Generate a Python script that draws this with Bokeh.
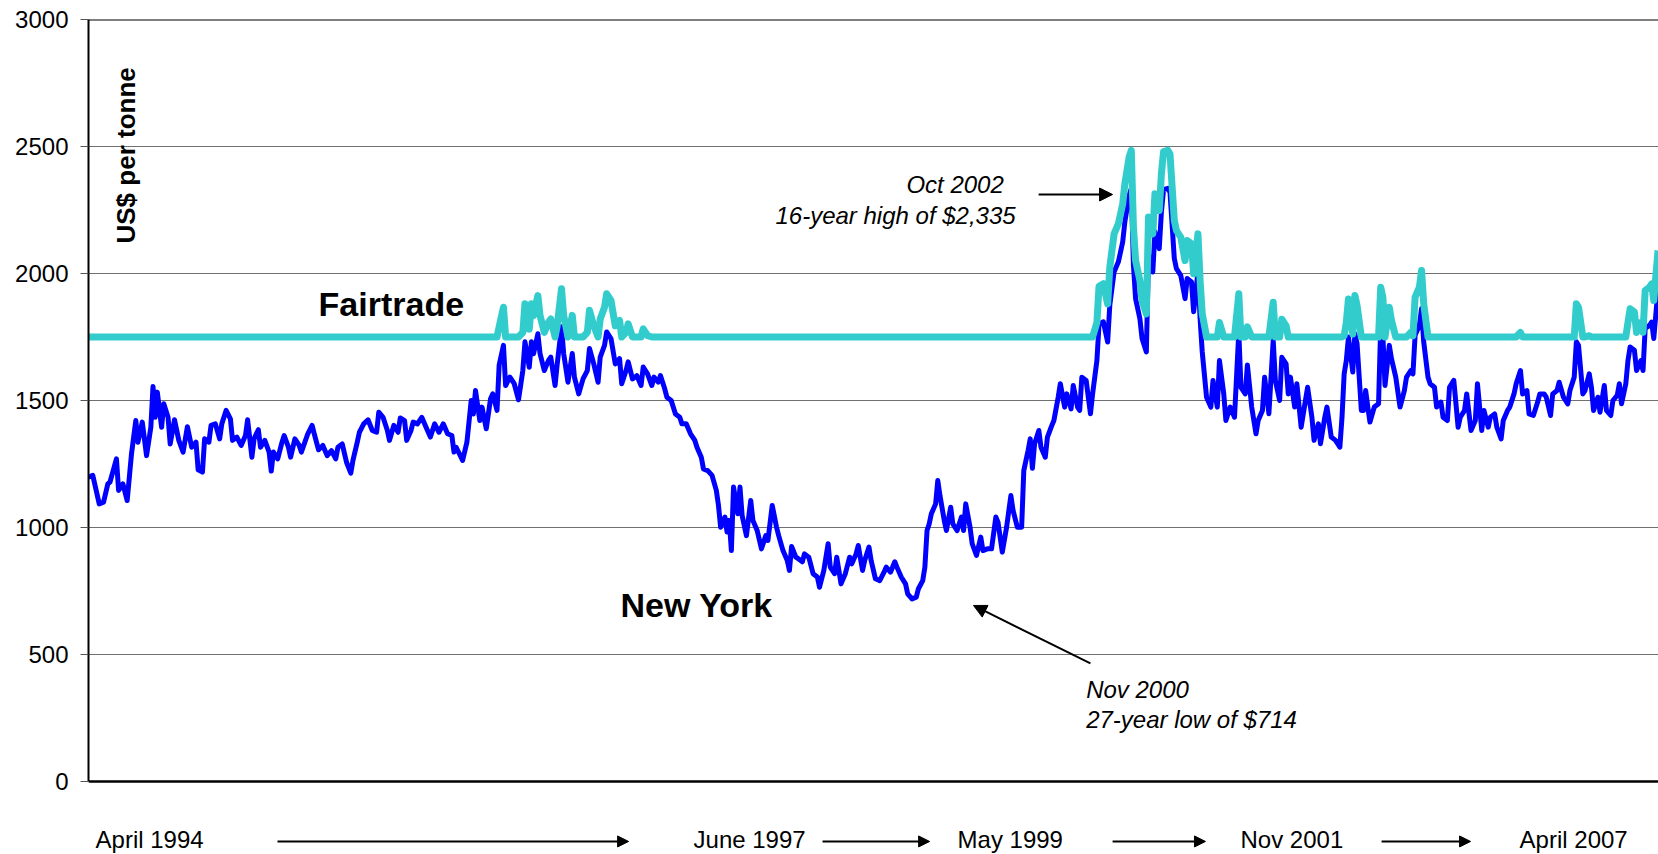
from bokeh.plotting import figure
from bokeh.models import Range1d, Span, Label, Arrow, NormalHead, FixedTicker
from bokeh.embed import file_html
from bokeh.resources import INLINE

# ---------------- data (weeks since April 1994, US$ per tonne) ----------------
WEEK = [
    0, 2, 5, 7, 9, 10, 13, 14, 16, 18,
    20, 22, 23, 25, 27, 29, 30, 31, 32, 34,
    35, 37, 38, 40, 42, 44, 46, 48, 50, 51,
    53, 54, 56, 57, 59, 61, 62, 64, 66, 67,
    69, 71, 73, 74, 76, 77, 79, 80, 82, 84,
    85, 86, 88, 90, 91, 93, 94, 96, 98, 99,
    102, 104, 105, 107, 109, 111, 113, 115, 116, 118,
    120, 122, 123, 125, 126, 128, 130, 132, 134, 135,
    137, 139, 140, 142, 144, 145, 147, 148, 150, 151,
    153, 155, 157, 159, 161, 163, 165, 167, 169, 170,
    171, 174, 176, 178, 179, 180, 182, 183, 185, 187,
    188, 190, 191, 193, 194, 196, 198, 200, 202, 203,
    205, 206, 207, 209, 210, 212, 214, 215, 217, 218,
    220, 221, 223, 225, 226, 228, 230, 232, 233, 235,
    237, 238, 240, 241, 243, 245, 247, 248, 250, 251,
    253, 255, 257, 258, 260, 262, 263, 265, 266, 268,
    269, 271, 273, 275, 276, 278, 280, 282, 283, 285,
    286, 288, 290, 292, 293, 294, 296, 297, 298, 299,
    300, 302, 303, 304, 306, 308, 309, 311, 313, 315,
    316, 318, 320, 321, 323, 325, 326, 327, 329, 330,
    332, 333, 335, 337, 339, 340, 342, 344, 345, 347,
    348, 350, 352, 354, 355, 357, 358, 360, 361, 363,
    364, 366, 368, 370, 371, 373, 375, 376, 378, 380,
    381, 383, 385, 386, 388, 389, 390, 391, 392, 394,
    395, 396, 398, 399, 401, 402, 404, 406, 407, 408,
    410, 411, 413, 415, 416, 418, 420, 422, 423, 425,
    427, 429, 430, 432, 434, 435, 437, 438, 439, 440,
    442, 443, 445, 446, 448, 449, 451, 452, 454, 455,
    457, 458, 460, 461, 462, 464, 466, 467, 469, 470,
    472, 474, 475, 477, 479, 481, 482, 484, 485, 486,
    487, 489, 490, 492, 493, 495, 496, 498, 499, 500,
    502, 503, 505, 506, 508, 510, 511, 513, 514, 516,
    517, 518, 520, 522, 523, 525, 526, 528, 529, 531,
    533, 535, 536, 538, 539, 541, 543, 544, 546, 547,
    549, 551, 552, 554, 555, 557, 558, 559, 561, 562,
    564, 566, 567, 569, 570, 572, 573, 575, 576, 578,
    580, 582, 583, 584, 585, 586, 588, 589, 590, 592,
    593, 594, 595, 596, 598, 600, 601, 602, 603, 605,
    606, 608, 610, 612, 613, 615, 616, 617, 619, 620,
    621, 623, 624, 626, 627, 629, 630, 632, 633, 635,
    637, 638, 640, 641, 643, 645, 646, 648, 649, 651,
    652, 654, 655, 657, 658, 660, 661, 663, 664, 666,
    667, 669, 670, 672, 674, 675, 677, 678, 680, 681,
    683, 684, 686, 688, 689, 691, 692, 693, 695, 696,
    698, 699, 700, 702, 703, 705, 706, 708, 709, 711,
    712, 713, 715, 716, 717, 719, 720, 722, 723, 724,
    726, 727, 728, 730,
]

NEW_YORK = [
    1198, 1205, 1093, 1100, 1172, 1179, 1270, 1146, 1172, 1106,
    1290, 1421, 1336, 1415, 1283, 1395, 1555, 1434, 1533, 1395,
    1487, 1434, 1329, 1424, 1343, 1297, 1397, 1316, 1336, 1227,
    1218, 1349, 1336, 1402, 1408, 1349, 1408, 1461, 1428, 1343,
    1356, 1323, 1362, 1424, 1277, 1349, 1385, 1316, 1343, 1297,
    1222, 1297, 1270, 1336, 1362, 1316, 1277, 1349, 1323, 1297,
    1369, 1402, 1369, 1306, 1323, 1283, 1303, 1270, 1316, 1329,
    1257, 1214, 1264, 1336, 1375, 1408, 1424, 1382, 1375, 1454,
    1434, 1382, 1343, 1402, 1375, 1431, 1421, 1343, 1382, 1415,
    1408, 1434, 1395, 1356, 1408, 1375, 1408, 1369, 1362, 1297,
    1316, 1264, 1336, 1500, 1447, 1539, 1421, 1474, 1389, 1507,
    1526, 1461, 1640, 1717, 1559, 1592, 1566, 1503, 1618, 1731,
    1631, 1731, 1684, 1763, 1685, 1618, 1659, 1671, 1559, 1644,
    1790, 1685, 1572, 1685, 1592, 1526, 1585, 1618, 1705, 1644,
    1572, 1671, 1717, 1770, 1744, 1644, 1665, 1566, 1618, 1652,
    1585, 1598, 1559, 1632, 1605, 1559, 1592, 1572, 1598, 1546,
    1513, 1500, 1447, 1434, 1408, 1408, 1369, 1343, 1316, 1277,
    1231, 1224, 1205, 1146, 1087, 1001, 1041, 982, 1028, 909,
    1159, 1054, 1159, 1047, 968, 1106, 1028, 988, 916, 968,
    949, 1087, 1001, 968, 909, 870, 831, 925, 883, 878,
    865, 896, 883, 818, 805, 765, 831, 936, 844, 818,
    883, 778, 818, 883, 857, 896, 929, 831, 870, 923,
    870, 798, 791, 824, 844, 824, 865, 844, 805, 778,
    739, 719, 726, 759, 791, 844, 988, 1014, 1054, 1093,
    1185, 1126, 1028, 988, 1080, 1014, 988, 1041, 988, 1093,
    1001, 936, 890, 962, 909, 916, 916, 1041, 1021, 903,
    1001, 1126, 1067, 1001, 1001, 1224, 1303, 1349, 1233, 1329,
    1382, 1316, 1277, 1356, 1401, 1421, 1513, 1566, 1474, 1526,
    1467, 1559, 1474, 1461, 1592, 1579, 1448, 1526, 1657, 1800,
    1810, 1730, 1875, 2006, 2046, 2124, 2203, 2308, 2335, 2032,
    1901, 1822, 1744, 1691, 2072, 2006, 2164, 2098, 2242, 2330,
    2335, 2320, 2059, 2019, 1993, 1901, 1980, 1967, 1849, 2006,
    1822, 1691, 1513, 1474, 1579, 1474, 1657, 1526, 1421, 1474,
    1434, 1770, 1552, 1526, 1640, 1474, 1369, 1421, 1461, 1592,
    1448, 1737, 1579, 1500, 1670, 1644, 1526, 1592, 1474, 1566,
    1395, 1500, 1552, 1434, 1343, 1408, 1330, 1434, 1474, 1356,
    1343, 1316, 1434, 1605, 1657, 1750, 1612, 1763, 1724, 1461,
    1461, 1539, 1474, 1415, 1474, 1487, 1796, 1757, 1559, 1717,
    1665, 1592, 1474, 1539, 1592, 1618, 1605, 1757, 1796, 1862,
    1731, 1592, 1566, 1552, 1474, 1494, 1434, 1421, 1552, 1579,
    1395, 1434, 1461, 1526, 1382, 1421, 1566, 1382, 1461, 1395,
    1434, 1447, 1395, 1349, 1421, 1461, 1474, 1526, 1566, 1618,
    1526, 1539, 1447, 1441, 1494, 1526, 1526, 1513, 1441, 1526,
    1539, 1572, 1513, 1487, 1539, 1592, 1731, 1717, 1526, 1539,
    1605, 1552, 1461, 1513, 1454, 1559, 1461, 1441, 1500, 1520,
    1566, 1487, 1566, 1657, 1711, 1698, 1618, 1657, 1618, 1783,
    1796, 1809, 1744, 1941,
]

FAIRTRADE = [
    1750, 1750, 1750, 1750, 1750, 1750, 1750, 1750, 1750, 1750,
    1750, 1750, 1750, 1750, 1750, 1750, 1750, 1750, 1750, 1750,
    1750, 1750, 1750, 1750, 1750, 1750, 1750, 1750, 1750, 1750,
    1750, 1750, 1750, 1750, 1750, 1750, 1750, 1750, 1750, 1750,
    1750, 1750, 1750, 1750, 1750, 1750, 1750, 1750, 1750, 1750,
    1750, 1750, 1750, 1750, 1750, 1750, 1750, 1750, 1750, 1750,
    1750, 1750, 1750, 1750, 1750, 1750, 1750, 1750, 1750, 1750,
    1750, 1750, 1750, 1750, 1750, 1750, 1750, 1750, 1750, 1750,
    1750, 1750, 1750, 1750, 1750, 1750, 1750, 1750, 1750, 1750,
    1750, 1750, 1750, 1750, 1750, 1750, 1750, 1750, 1750, 1750,
    1750, 1750, 1750, 1750, 1750, 1750, 1750, 1750, 1750, 1750,
    1750, 1750, 1790, 1867, 1750, 1750, 1750, 1750, 1768, 1881,
    1781, 1881, 1834, 1913, 1835, 1768, 1809, 1821, 1750, 1794,
    1940, 1835, 1750, 1835, 1750, 1750, 1750, 1768, 1855, 1794,
    1750, 1821, 1867, 1920, 1894, 1794, 1815, 1750, 1768, 1802,
    1750, 1750, 1750, 1782, 1755, 1750, 1750, 1750, 1750, 1750,
    1750, 1750, 1750, 1750, 1750, 1750, 1750, 1750, 1750, 1750,
    1750, 1750, 1750, 1750, 1750, 1750, 1750, 1750, 1750, 1750,
    1750, 1750, 1750, 1750, 1750, 1750, 1750, 1750, 1750, 1750,
    1750, 1750, 1750, 1750, 1750, 1750, 1750, 1750, 1750, 1750,
    1750, 1750, 1750, 1750, 1750, 1750, 1750, 1750, 1750, 1750,
    1750, 1750, 1750, 1750, 1750, 1750, 1750, 1750, 1750, 1750,
    1750, 1750, 1750, 1750, 1750, 1750, 1750, 1750, 1750, 1750,
    1750, 1750, 1750, 1750, 1750, 1750, 1750, 1750, 1750, 1750,
    1750, 1750, 1750, 1750, 1750, 1750, 1750, 1750, 1750, 1750,
    1750, 1750, 1750, 1750, 1750, 1750, 1750, 1750, 1750, 1750,
    1750, 1750, 1750, 1750, 1750, 1750, 1750, 1750, 1750, 1750,
    1750, 1750, 1750, 1750, 1750, 1750, 1750, 1750, 1750, 1750,
    1750, 1750, 1750, 1750, 1750, 1750, 1750, 1750, 1807, 1950,
    1960, 1880, 2025, 2156, 2196, 2274, 2353, 2458, 2485, 2182,
    2051, 1972, 1894, 1841, 2222, 2156, 2314, 2248, 2392, 2480,
    2485, 2470, 2209, 2169, 2143, 2051, 2130, 2117, 1999, 2156,
    1972, 1841, 1750, 1750, 1750, 1750, 1807, 1750, 1750, 1750,
    1750, 1920, 1750, 1750, 1790, 1750, 1750, 1750, 1750, 1750,
    1750, 1887, 1750, 1750, 1820, 1794, 1750, 1750, 1750, 1750,
    1750, 1750, 1750, 1750, 1750, 1750, 1750, 1750, 1750, 1750,
    1750, 1750, 1750, 1755, 1807, 1900, 1762, 1913, 1874, 1750,
    1750, 1750, 1750, 1750, 1750, 1750, 1946, 1907, 1750, 1867,
    1815, 1750, 1750, 1750, 1750, 1768, 1755, 1907, 1946, 2012,
    1881, 1750, 1750, 1750, 1750, 1750, 1750, 1750, 1750, 1750,
    1750, 1750, 1750, 1750, 1750, 1750, 1750, 1750, 1750, 1750,
    1750, 1750, 1750, 1750, 1750, 1750, 1750, 1750, 1750, 1768,
    1750, 1750, 1750, 1750, 1750, 1750, 1750, 1750, 1750, 1750,
    1750, 1750, 1750, 1750, 1750, 1750, 1881, 1867, 1750, 1750,
    1755, 1750, 1750, 1750, 1750, 1750, 1750, 1750, 1750, 1750,
    1750, 1750, 1750, 1807, 1861, 1848, 1768, 1807, 1768, 1933,
    1946, 1959, 1894, 2091,
]

Y_TICKS = [0, 500, 1000, 1500, 2000, 2500, 3000]
PERIOD_LABELS = ["April 1994", "June 1997", "May 1999", "Nov 2001", "April 2007"]
PERIOD_WEEKS = [3.3, 281.4, 404.2, 535.8, 665.6]
PERIOD_ARROWS = [(87.9, 251.2), (341.4, 391.2), (476.3, 519.5), (601.4, 642.8)]

assert len(WEEK) == len(NEW_YORK) == len(FAIRTRADE)

FONT = "Liberation Sans, Arial, sans-serif"

# frame: 88..1658 px wide (2.15 px per week), 3000 at 19 px, 0 at 781 px
p = figure(width=1658, height=854, output_backend="svg", toolbar_location=None,
           x_range=Range1d(0, 730.2), y_range=Range1d(-287.4, 3000),
           min_border_left=88, min_border_right=0, min_border_top=19, min_border_bottom=0)
p.outline_line_color = None
p.background_fill_color = "white"
p.border_fill_color = "white"

p.xgrid.visible = False
p.ygrid.ticker = FixedTicker(ticks=Y_TICKS)
p.ygrid.grid_line_color = "#707070"
p.ygrid.grid_line_width = 1

p.yaxis.ticker = FixedTicker(ticks=Y_TICKS)
p.yaxis.bounds = (0, 3000)
p.yaxis.major_label_text_font = FONT
p.yaxis.major_label_text_font_size = "24px"
p.yaxis.major_label_text_color = "black"
p.yaxis.major_tick_out = 8
p.yaxis.major_tick_in = 0
p.yaxis.major_tick_line_color = "#555555"
p.yaxis.minor_tick_line_color = None
p.yaxis.major_label_standoff = 12
p.yaxis.axis_line_width = 2
p.yaxis.axis_line_color = "black"

p.xaxis.visible = False

p.add_layout(Span(location=3000, dimension="width", line_color="black", line_width=2))
p.add_layout(Span(location=0, dimension="width", line_color="black", line_width=2.5))

p.line(WEEK, NEW_YORK, line_color="#0000FF", line_width=5, line_join="round")
p.line(WEEK, FAIRTRADE, line_color="#33CCCC", line_width=7, line_join="round")

# texts in the plot
p.add_layout(Label(x=17.5, y=2465, text="US$ per tonne", angle=90, angle_units="deg",
                   text_align="center", text_baseline="alphabetic",
                   text_font=FONT, text_font_size="26px", text_font_style="bold",
                   text_color="black"))
p.add_layout(Label(x=107.0, y=1881, text="Fairtrade", text_align="left",
                   text_baseline="alphabetic", text_font=FONT, text_font_size="34px",
                   text_font_style="bold", text_color="black"))
p.add_layout(Label(x=247.4, y=696, text="New York", text_align="left",
                   text_baseline="alphabetic", text_font=FONT, text_font_size="34px",
                   text_font_style="bold", text_color="black"))

for (x, y, t) in [(380.4, 2349, "Oct 2002"), (319.5, 2229, "16-year high of $2,335"),
                  (464.0, 363, "Nov 2000"), (464.0, 246, "27-year low of $714")]:
    p.add_layout(Label(x=x, y=y, text=t, text_align="left", text_baseline="alphabetic",
                       text_font=FONT, text_font_size="24px", text_font_style="italic",
                       text_color="black"))

p.add_layout(Arrow(x_start=441.9, y_start=2311, x_end=476.3, y_end=2311,
                   line_color="black", line_width=2,
                   end=NormalHead(size=13, fill_color="black", line_color="black")))
p.add_layout(Arrow(x_start=466.0, y_start=465, x_end=411.6, y_end=693,
                   line_color="black", line_width=2,
                   end=NormalHead(size=13, fill_color="black", line_color="black")))

# period labels under the axis
for x, t in zip(PERIOD_WEEKS, PERIOD_LABELS):
    p.add_layout(Label(x=x, y=-230, text=t, text_align="left", text_baseline="alphabetic",
                       text_font=FONT, text_font_size="24px", text_color="black"))
for (x0, x1) in PERIOD_ARROWS:
    p.add_layout(Arrow(x_start=x0, y_start=-236, x_end=x1, y_end=-236,
                       line_color="black", line_width=2,
                       end=NormalHead(size=11, fill_color="black", line_color="black")))

open("out.html", "w").write(file_html(p, INLINE))
